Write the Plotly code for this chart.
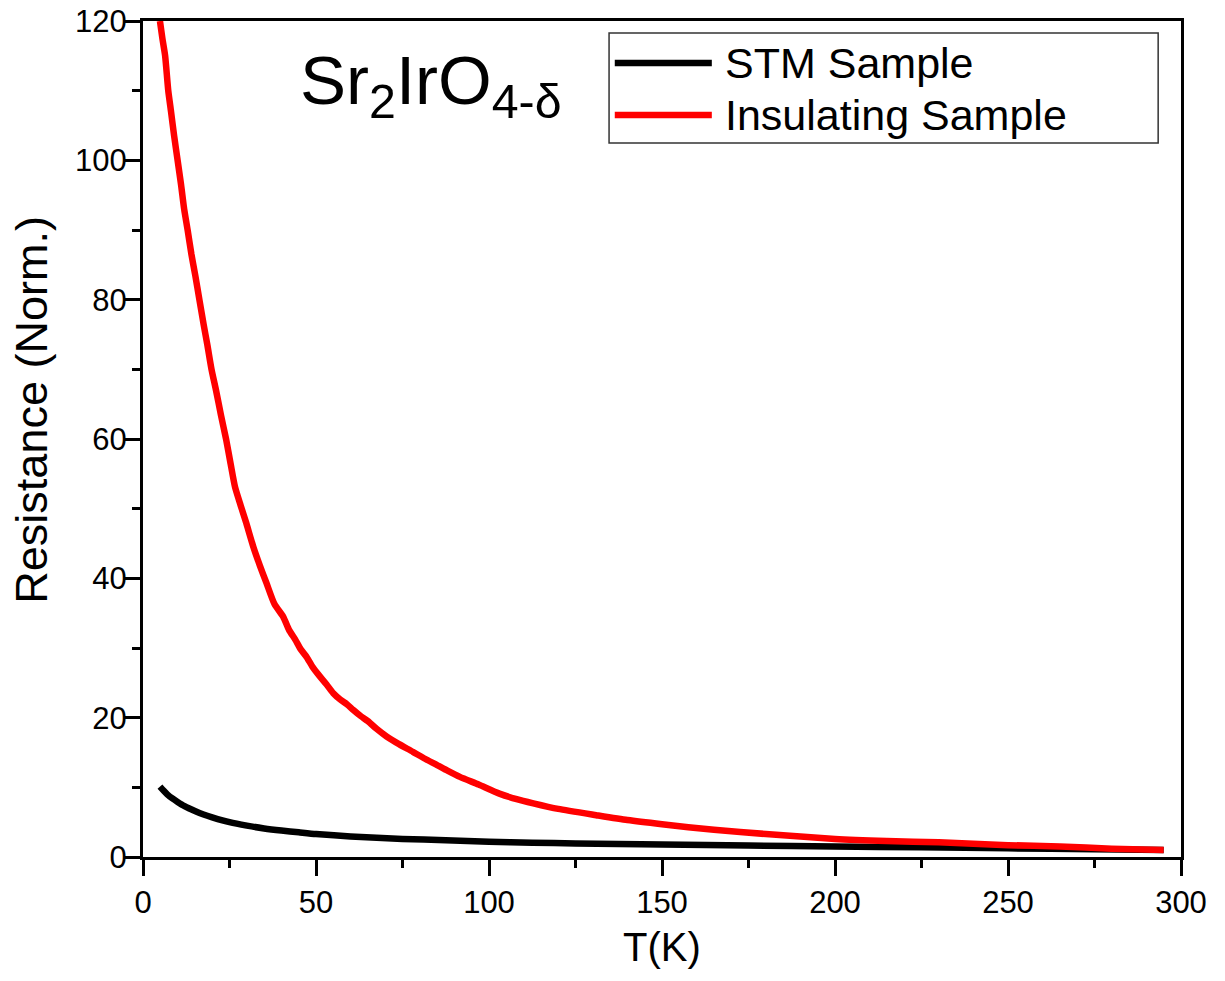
import plotly.graph_objects as go

# temperature (K) and normalized resistance
t_stm = [4.9, 6, 7, 8.5, 10, 12, 15, 17.5, 20, 25, 30, 35, 40, 45, 50, 60, 75, 87.5, 100, 112.5,
         125, 137.5, 150, 175, 200, 225, 250, 275, 295]
r_stm = [10.1, 9.5, 9.0, 8.4, 7.9, 7.3, 6.6, 6.1, 5.7, 5.0, 4.5, 4.1, 3.8, 3.55, 3.3, 2.95, 2.6, 2.4, 2.2, 2.05,
         1.95, 1.87, 1.8, 1.65, 1.5, 1.4, 1.25, 1.1, 1.0]

t_ins = [4.9, 5.6, 6.4, 7.3, 8.1, 9.0, 10.0, 11.0, 11.9, 12.9, 14.0, 15.1, 16.3, 17.5, 18.6, 19.8,
         21.1, 22.5, 24.0, 25.3, 26.6, 28.2, 29.8, 31.9, 33.8, 35.7, 38.0, 40.5, 42.2, 44.0, 45.6,
         47.3, 49.0, 51.0, 53.0, 55.0, 57.0, 59.0, 60.8, 63.0, 65.0, 67.5, 70.4, 74.0, 78.0, 81.5,
         85.0, 88.0, 91.6, 97.0, 103.0, 108.0, 112.8, 120.0, 131.0, 140.0, 150.0, 165.0, 180.0,
         200.0, 215.0, 230.0, 250.0, 265.0, 280.0, 295.0]
r_ins = [120.0, 117.5, 115.0, 110.0, 107.0, 103.5, 100.0, 96.5, 93.0, 90.0, 86.5, 83.5, 80.0, 76.5,
         73.5, 70.0, 67.0, 63.5, 60.0, 56.5, 53.1, 50.5, 48.0, 44.5, 41.8, 39.3, 36.3, 34.5, 32.6,
         31.2, 29.8, 28.7, 27.3, 26.0, 24.8, 23.5, 22.6, 21.9, 21.1, 20.2, 19.5, 18.4, 17.3, 16.2,
         15.1, 14.1, 13.2, 12.4, 11.5, 10.4, 9.1, 8.3, 7.7, 6.9, 6.0, 5.3, 4.7, 3.9, 3.3,
         2.6, 2.3, 2.1, 1.7, 1.5, 1.2, 1.0]

series_names = ['STM Sample', 'Insulating Sample']
series_colors = ['#000000', '#ff0000']

FONT = 'Liberation Sans, Arial, sans-serif'

fig = go.Figure()
fig.add_trace(go.Scatter(x=t_stm, y=r_stm, mode='lines', name=series_names[0],
                         line=dict(color=series_colors[0], width=6.5, shape='spline', smoothing=0.6)))
fig.add_trace(go.Scatter(x=t_ins, y=r_ins, mode='lines', name=series_names[1],
                         line=dict(color=series_colors[1], width=6.5, shape='spline', smoothing=0.6)))

axis_style = dict(showline=True, linecolor='black', linewidth=3, mirror=True,
                  ticks='outside', ticklen=16, tickwidth=3, tickcolor='black',
                  showgrid=False, zeroline=False, automargin=False, ticklabeloverflow='allow',
                  tickfont=dict(family=FONT, size=31, color='black'))

fig.update_xaxes(range=[0, 300], dtick=50, tick0=0, ticklabelstandoff=0,
                 minor=dict(ticks='outside', ticklen=8, tickwidth=3, tickcolor='black', dtick=25),
                 title=dict(text='T(K)', font=dict(family=FONT, size=40, color='black'), standoff=14),
                 **axis_style)
fig.update_yaxes(range=[0, 120], dtick=20, tick0=0, ticklabelstandoff=-9,
                 minor=dict(ticks='outside', ticklen=8, tickwidth=3, tickcolor='black', dtick=10),
                 **axis_style)

# y title placed by hand so it sits a little above the axis centre, as in the original
fig.add_annotation(xref='paper', yref='paper', x=-0.107, y=0.535, text='Resistance (Norm.)',
                   textangle=-90, showarrow=False, xanchor='center', yanchor='middle',
                   font=dict(family=FONT, size=45, color='black'))

# hand-made legend box, as in the original figure
fig.add_shape(type='rect', xref='paper', yref='paper', x0=0.449, x1=0.978, y0=0.854, y1=0.9856,
              line=dict(color='#333333', width=1.5), fillcolor='white')
for i, (name, color) in enumerate(zip(series_names, series_colors)):
    yy = 0.9498 - i * 0.0622
    fig.add_shape(type='line', xref='paper', yref='paper', x0=0.4545, x1=0.548, y0=yy, y1=yy,
                  line=dict(color=color, width=6.5))
    fig.add_annotation(xref='paper', yref='paper', x=0.5585, y=yy, text=name, showarrow=False,
                       xanchor='left', yanchor='middle',
                       font=dict(family=FONT, size=43, color='black'))

fig.add_annotation(xref='paper', yref='paper', x=0.149, y=0.924,
                   text='Sr<sub>2</sub>IrO<sub>4-δ</sub>', showarrow=False,
                   xanchor='left', yanchor='middle',
                   font=dict(family=FONT, size=69, color='black'))

fig.update_layout(width=1225, height=981, showlegend=False,
                  plot_bgcolor='white', paper_bgcolor='white',
                  margin=dict(l=135, r=52, t=13, b=132))

fig.write_html("out.html")
